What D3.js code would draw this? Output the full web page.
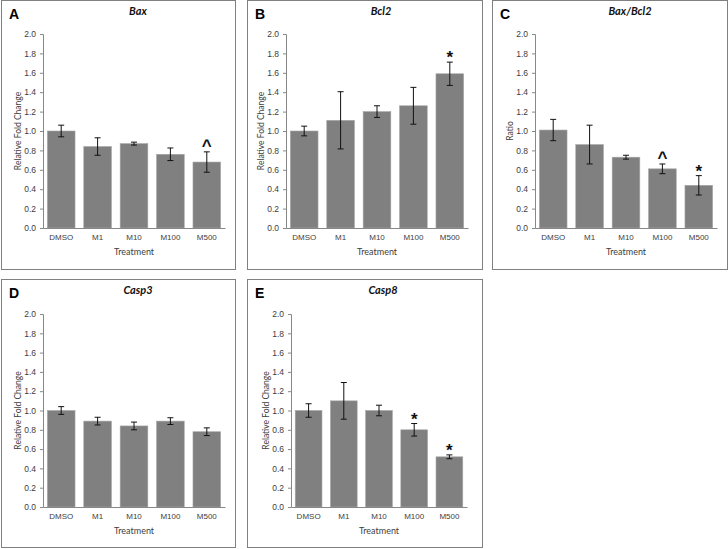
<!DOCTYPE html>
<html>
<head>
<meta charset="utf-8">
<script src="https://cdn.jsdelivr.net/npm/d3@7"></script>
<style>
  body { margin: 0; background: #fff; }
  svg { display: block; font-family: Lato, "Open Sans", sans-serif; }
</style>
</head>
<body>
<div id="chart"></div>
<script>
// data
var treatments = ["DMSO", "M1", "M10", "M100", "M500"];
var yTicks = [0, 0.2, 0.4, 0.6, 0.8, 1.0, 1.2, 1.4, 1.6, 1.8, 2.0];

var panelLetters = ["A", "B", "C", "D", "E"];
var titles = ["Bax", "Bcl2", "Bax/Bcl2", "Casp3", "Casp8"];
var yLabels = ["Relative Fold Change", "Relative Fold Change", "Ratio", "Relative Fold Change", "Relative Fold Change"];

var baxMean   = [1.00, 0.84, 0.87, 0.76, 0.68];
var baxErr    = [0.06, 0.09, 0.015, 0.065, 0.105];
var bcl2Mean  = [1.00, 1.11, 1.20, 1.26, 1.59];
var bcl2Err   = [0.05, 0.295, 0.06, 0.19, 0.12];
var ratioMean = [1.01, 0.86, 0.73, 0.61, 0.44];
var ratioErr  = [0.11, 0.20, 0.02, 0.05, 0.10];
var casp3Mean = [1.00, 0.89, 0.84, 0.89, 0.78];
var casp3Err  = [0.04, 0.04, 0.04, 0.035, 0.04];
var casp8Mean = [1.00, 1.10, 1.00, 0.80, 0.52];
var casp8Err  = [0.07, 0.19, 0.055, 0.065, 0.02];

// significance marks above bars
var baxSig   = ["", "", "", "", "^"];
var bcl2Sig  = ["", "", "", "", "*"];
var ratioSig = ["", "", "", "^", "*"];
var casp3Sig = ["", "", "", "", ""];
var casp8Sig = ["", "", "", "*", "*"];

var means = [baxMean, bcl2Mean, ratioMean, casp3Mean, casp8Mean];
var errs  = [baxErr, bcl2Err, ratioErr, casp3Err, casp8Err];
var sigs  = [baxSig, bcl2Sig, ratioSig, casp3Sig, casp8Sig];

// panel boxes and plot areas (pixels)
var layout = [
  {x0: 1,   y0: 0,   x1: 235, y1: 269, ax: 43,  ar: 225, top: 34,  base: 228},
  {x0: 247, y0: 0,   x1: 482, y1: 269, ax: 286, ar: 468, top: 34,  base: 228},
  {x0: 492, y0: 0,   x1: 727, y1: 269, ax: 535, ar: 717, top: 34,  base: 228},
  {x0: 1,   y0: 279, x1: 235, y1: 547, ax: 43,  ar: 225, top: 314, base: 507},
  {x0: 247, y0: 279, x1: 482, y1: 547, ax: 291, ar: 467, top: 314, base: 507}
];

var svg = d3.select("#chart")
  .append("svg")
    .attr("width", 728)
    .attr("height", 549);

layout.forEach(function(p, i) {
  var g = svg.append("g");

  // panel frame
  g.append("rect")
    .attr("x", p.x0 + 0.5)
    .attr("y", p.y0 + 0.5)
    .attr("width", p.x1 - p.x0)
    .attr("height", p.y1 - p.y0)
    .attr("fill", "none")
    .attr("stroke", "#808080")
    .attr("stroke-width", 1);

  var x = d3.scaleBand()
    .domain(treatments)
    .range([p.ax, p.ar])
    .paddingInner(0.24)
    .paddingOuter(0.12);
  var y = d3.scaleLinear()
    .domain([0, 2])
    .range([p.base, p.top]);

  var rows = treatments.map(function(t, k) {
    return {t: t, m: means[i][k], e: errs[i][k], s: sigs[i][k]};
  });

  // bars
  g.selectAll("rect.bar")
    .data(rows)
    .enter()
    .append("rect")
      .attr("class", "bar")
      .attr("x", function(d) { return x(d.t); })
      .attr("y", function(d) { return y(d.m); })
      .attr("width", x.bandwidth())
      .attr("height", function(d) { return y(0) - y(d.m); })
      .attr("fill", "#808080")
      .attr("stroke", "#a6a6a6")
      .attr("stroke-width", 0.6);

  // error bars
  var eb = g.selectAll("g.err")
    .data(rows)
    .enter()
    .append("g")
      .attr("class", "err")
      .attr("stroke", "#111")
      .attr("stroke-width", 1);
  eb.append("line")
    .attr("x1", function(d) { return x(d.t) + x.bandwidth() / 2; })
    .attr("x2", function(d) { return x(d.t) + x.bandwidth() / 2; })
    .attr("y1", function(d) { return y(d.m + d.e); })
    .attr("y2", function(d) { return y(d.m - d.e); });
  eb.append("line")
    .attr("x1", function(d) { return x(d.t) + x.bandwidth() / 2 - 3; })
    .attr("x2", function(d) { return x(d.t) + x.bandwidth() / 2 + 3; })
    .attr("y1", function(d) { return y(d.m + d.e); })
    .attr("y2", function(d) { return y(d.m + d.e); });
  eb.append("line")
    .attr("x1", function(d) { return x(d.t) + x.bandwidth() / 2 - 3; })
    .attr("x2", function(d) { return x(d.t) + x.bandwidth() / 2 + 3; })
    .attr("y1", function(d) { return y(d.m - d.e); })
    .attr("y2", function(d) { return y(d.m - d.e); });

  // significance marks
  g.selectAll("text.sig")
    .data(rows.filter(function(d) { return d.s; }))
    .enter()
    .append("text")
      .attr("class", "sig")
      .attr("x", function(d) { return x(d.t) + x.bandwidth() / 2; })
      .attr("y", function(d) { return y(d.m + d.e) + (d.s == "*" ? 1 : -1); })
      .attr("text-anchor", "middle")
      .style("font-family", "'Liberation Sans', Arial, sans-serif")
      .style("font-weight", "bold")
      .style("font-size", "17px")
      .attr("fill", "#111")
      .text(function(d) { return d.s; });

  // y axis
  var yAxis = g.append("g")
    .attr("transform", "translate(" + p.ax + ",0)")
    .call(d3.axisLeft(y).tickValues(yTicks).tickSize(3).tickPadding(4)
      .tickFormat(d3.format(".1f")));
  yAxis.select(".domain").attr("stroke", "#888");
  yAxis.selectAll(".tick line").attr("stroke", "#888");
  yAxis.selectAll("text")
    .style("font-size", "8.5px")
    .attr("fill", "#404040");

  // x axis
  var xAxis = g.append("g")
    .attr("transform", "translate(0," + p.base + ")")
    .call(d3.axisBottom(x).tickSize(0).tickPadding(6));
  xAxis.select(".domain").attr("stroke", "#888");
  xAxis.selectAll("text")
    .style("font-size", "8px")
    .attr("fill", "#404040");

  // axis titles
  g.append("text")
    .attr("x", (p.ax + p.ar) / 2)
    .attr("y", p.base + 27)
    .attr("text-anchor", "middle")
    .style("font-size", "9px")
    .attr("fill", "#404040")
    .text("Treatment");
  g.append("text")
    .attr("transform", "translate(" + (p.ax - 22) + "," + ((p.top + p.base) / 2) + ") rotate(-90)")
    .attr("text-anchor", "middle")
    .style("font-size", "8.5px")
    .attr("fill", "#404040")
    .text(yLabels[i]);

  // gene title
  g.append("text")
    .attr("x", (p.ax + p.ar) / 2 + 4)
    .attr("y", p.y0 + 15)
    .attr("text-anchor", "middle")
    .style("font-size", "11px")
    .style("font-weight", "bold")
    .style("font-style", "italic")
    .attr("fill", "#111")
    .text(titles[i]);

  // panel letter
  g.append("text")
    .attr("x", p.x0 + 8)
    .attr("y", p.y0 + 19)
    .style("font-family", "'Liberation Sans', Arial, sans-serif")
    .style("font-size", "14px")
    .style("font-weight", "bold")
    .attr("fill", "#000")
    .text(panelLetters[i]);
});
</script>
</body>
</html>
